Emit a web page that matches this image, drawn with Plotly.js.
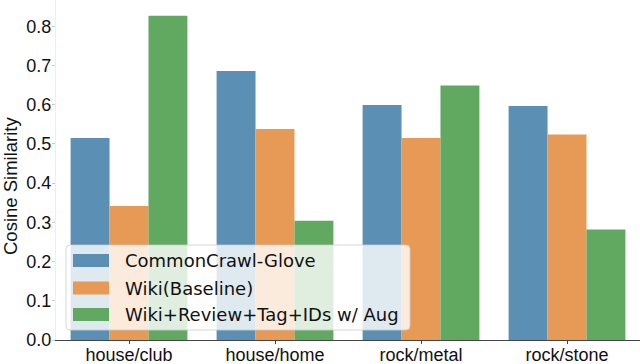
<!DOCTYPE html>
<html>
<head>
<meta charset="utf-8">
<script src="https://cdn.plot.ly/plotly-3.0.1.min.js"></script>
<style>
  html, body { margin: 0; padding: 0; background: #fff; }
  #chart { width: 640px; height: 364px; }
</style>
</head>
<body>
<div id="chart"></div>
<script>
// word pairs on the x axis
var pairs = ['house/club', 'house/home', 'rock/metal', 'rock/stone'];

// cosine similarity per embedding
var commonCrawl = [0.515, 0.686, 0.599, 0.597];
var wikiBaseline = [0.342, 0.538, 0.515, 0.524];
var wikiAug = [0.827, 0.304, 0.649, 0.282];

var seriesNames = ['CommonCrawl-Glove', 'Wiki(Baseline)', 'Wiki+Review+Tag+IDs w/ Aug'];
var colors = ['#5b90b4', '#e79a56', '#61a861'];

var yTicks = [0.0, 0.1, 0.2, 0.3, 0.4, 0.5, 0.6, 0.7, 0.8];
var yTitle = 'Cosine Similarity';

var traces = [commonCrawl, wikiBaseline, wikiAug].map(function (vals, i) {
    return {
        type: 'bar',
        x: pairs,
        y: vals,
        name: seriesNames[i],
        marker: { color: colors[i], line: { width: 0 } },
        hoverinfo: 'skip'
    };
});

var tickFont = "'Liberation Sans', Arial, sans-serif";
var legFont = "'DejaVu Sans', sans-serif";

// legend drawn by hand (matplotlib style: wide patches, translucent box)
var W = 584, H = 340;           // plot area in px
function px(x) { return (x - 56) / W; }
function py(y) { return (H - y) / H; }

var shapes = [];
var annotations = [];
var bx0 = px(66), bx1 = px(410), by0 = py(330), by1 = py(245);
var rx = 4 / W, ry = 4 / H;
shapes.push({
    type: 'path', xref: 'paper', yref: 'paper', layer: 'above',
    path: 'M' + (bx0 + rx) + ',' + by1 + ' L' + (bx1 - rx) + ',' + by1 +
          ' Q' + bx1 + ',' + by1 + ' ' + bx1 + ',' + (by1 - ry) +
          ' L' + bx1 + ',' + (by0 + ry) +
          ' Q' + bx1 + ',' + by0 + ' ' + (bx1 - rx) + ',' + by0 +
          ' L' + (bx0 + rx) + ',' + by0 +
          ' Q' + bx0 + ',' + by0 + ' ' + bx0 + ',' + (by0 + ry) +
          ' L' + bx0 + ',' + (by1 - ry) +
          ' Q' + bx0 + ',' + by1 + ' ' + (bx0 + rx) + ',' + by1 + ' Z',
    fillcolor: 'rgba(255,255,255,0.8)',
    line: { color: 'rgba(204,204,204,0.8)', width: 1 }
});
var rowY = [260.5, 288, 314.5];
seriesNames.forEach(function (name, i) {
    shapes.push({
        type: 'rect', xref: 'paper', yref: 'paper', layer: 'above',
        x0: px(73), x1: px(109), y0: py(rowY[i] + 6.5), y1: py(rowY[i] - 6.5),
        fillcolor: colors[i], line: { width: 0 }
    });
    annotations.push({
        xref: 'paper', yref: 'paper', x: px(123), y: py(rowY[i]),
        xanchor: 'left', yanchor: 'middle', showarrow: false,
        text: name, font: { family: legFont, size: 18, color: '#111' }
    });
});

// y title sits a bit below the plot middle in the reference
annotations.push({
    xref: 'paper', yref: 'paper', x: px(10), y: py(186),
    xanchor: 'center', yanchor: 'middle', showarrow: false, textangle: -90,
    text: yTitle, font: { family: tickFont, size: 18.5, color: '#111' }
});

var layout = {
    width: 640,
    height: 364,
    margin: { l: 56, r: 0, t: 0, b: 24 },
    paper_bgcolor: '#fff',
    plot_bgcolor: '#fff',
    barmode: 'group',
    bargap: 0.2,
    bargroupgap: 0,
    showlegend: false,
    font: { family: tickFont, size: 18, color: '#111' },
    xaxis: {
        range: [-0.5, 3.5],
        showgrid: false,
        zeroline: false,
        showline: true,
        linecolor: '#444',
        linewidth: 1.2,
        ticks: 'outside',
        ticklen: 3,
        tickcolor: '#444',
        ticklabelstandoff: -5,
        automargin: false,
        tickfont: { family: tickFont, size: 18, color: '#111' }
    },
    yaxis: {
        range: [0, 0.867],
        tickvals: yTicks,
        ticktext: yTicks.map(function (v) { return v.toFixed(1); }),
        showgrid: false,
        zeroline: false,
        showline: true,
        linecolor: '#eeeeee',
        linewidth: 1,
        ticks: 'outside',
        ticklen: 3,
        tickcolor: '#cccccc',
        ticklabelstandoff: -3,
        automargin: false,
        tickfont: { family: tickFont, size: 18, color: '#111' }
    },
    shapes: shapes,
    annotations: annotations
};

Plotly.newPlot('chart', traces, layout, { displayModeBar: false, staticPlot: true });
</script>
</body>
</html>
